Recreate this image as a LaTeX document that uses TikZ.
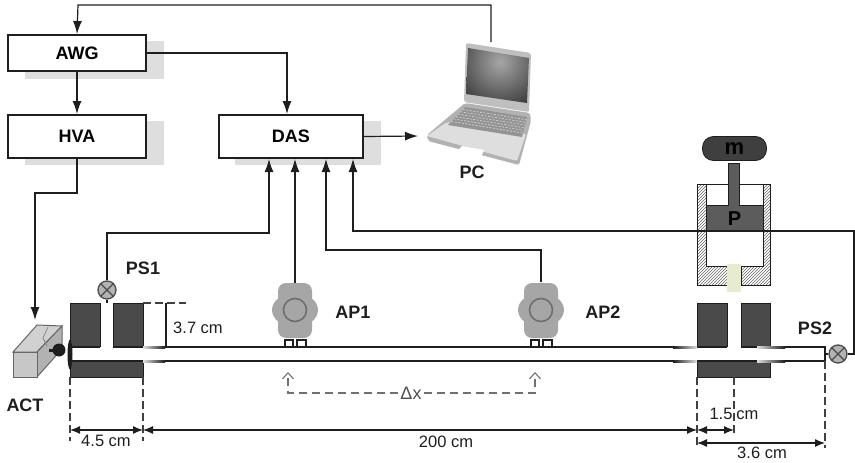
\documentclass[tikz,border=0pt]{standalone}
\usepackage{fontspec}
\setmainfont{Liberation Sans}
\usetikzlibrary{arrows.meta,patterns,calc}
\definecolor{rigInk}{HTML}{1E1E1E}
\definecolor{rigBlock}{HTML}{4A4A4A}
\definecolor{rigPiston}{HTML}{5C5C5C}
\definecolor{rigMass}{HTML}{3F3F3F}
\definecolor{rigShadow}{HTML}{DEDEDE}
\definecolor{rigSensor}{HTML}{A6A6A6}
\definecolor{rigFluid}{HTML}{E6ECCD}
\definecolor{rigDash}{HTML}{707070}
\tikzset{
    >=Latex,
    box/.style={draw=rigInk, line width=2pt, fill=white, minimum width=138pt, minimum height=36pt, font=\fontsize{18}{20}\selectfont\bfseries},
    boxshade/.style={fill=rigShadow, draw=none},
    tag/.style={font=\fontsize{18}{20}\selectfont\bfseries, text=rigInk, inner sep=0pt},
    dimtext/.style={font=\fontsize{16.5}{19}\selectfont, text=rigInk, inner sep=0pt},
    signal/.style={->, line width=1.2pt, draw=rigInk, >={Latex[length=13pt,width=9pt]}},
    wire/.style={line width=1.2pt, draw=rigInk},
    dimarrow/.style={<->, line width=1.2pt, draw=rigInk, >={Latex[length=10pt,width=8pt]}},
    dimline/.style={line width=1.2pt, draw=rigInk!85, dash pattern=on 8pt off 4pt},
    solidblock/.style={fill=rigBlock, draw=rigInk, line width=1pt},
    pipeedge/.style={line width=1.5pt, draw=rigInk},
    gauge/.style={circle, draw=rigBlock, line width=1.3pt, fill=rigSensor!85, minimum size=18pt, inner sep=0pt},
    ring/.style={circle, draw=rigBlock!80, line width=1.6pt, fill=rigSensor, minimum size=23pt, inner sep=0pt},
    spacing/.style={-{Straight Barb[length=6pt,width=11pt]}, line width=1.1pt, draw=rigDash, dash pattern=on 8pt off 5pt},
    pics/mic/.style={code={
        \fill[rigSensor, rounded corners=8pt] (-17,-27) rectangle (17,28);
        \fill[rigSensor] (0,0) ellipse (23 and 17);
        \draw[rigInk, line width=1.4pt, fill=white] (-10,30) rectangle (-2,36.5);
        \draw[rigInk, line width=1.4pt, fill=white] (2,30) rectangle (11,36.5);
    }}
}

\begin{document}
\begin{tikzpicture}[x=1pt,y=-1pt]
\useasboundingbox (0,0) rectangle (855,463);

% control boxes
\fill[boxshade] (25,41) rectangle (164,79);
\fill[boxshade] (25,121) rectangle (164,165);
\fill[boxshade] (235,121) rectangle (381,165);
\node[box] (awg) at (77,53) {AWG};
\node[box, minimum height=43pt] (hva) at (77,136.5) {HVA};
\node[box, minimum width=144pt, minimum height=43pt] (das) at (291,136.5) {DAS};

% laptop
\fill[black!30, rounded corners=2pt] (465,103) -- (530,113) -- (531,121) -- (519,165) -- (428,141) -- (427,135) -- cycle;
\fill[black!13, rounded corners=2pt] (427,136) -- (447,122) -- (526,134) -- (517,161) -- cycle;
\fill[black!42] (465,107) -- (527,117) -- (522,137) -- (448,125) -- cycle;
\foreach \r in {111,115,119,123,127,131}
    \draw[black!20, line width=0.8pt, dash pattern=on 2pt off 1.5pt] ($(465,107)!{(\r-107)/30}!(448,125)$) -- ($(527,117)!{(\r-107)/30}!(522,137)$);
\fill[white] (462,146) -- (484,150) -- (481,157) -- (457,151) -- cycle;
\fill[black!25, rounded corners=2pt] (466,43) -- (531,53) -- (529,112) -- (464,102) -- cycle;
\begin{scope}
\clip (468,48) -- (529,58) -- (527,103) -- (466,94) -- cycle;
\shade[inner color=black!35, outer color=black!78] (500,62) circle (50);
\end{scope}

% pipe
\fill[solidblock] (70,347) rectangle (143,377);
\draw[solidblock] (70,303) rectangle (100,347);
\draw[solidblock] (113,303) rectangle (143,347);
\draw[solidblock] (697,303) rectangle (770,377);
\fill[white] (70,347) rectangle (825,361);
\draw[pipeedge] (70,347) -- (100,347) (113,347) -- (727,347) (741,347) -- (825,347) -- (825,361) -- (70,361);
\foreach \a/\b/\lc/\rc in {143/165/black!12/rigInk,673/697/rigInk/black!12,757/785/black!12/rigInk} {
    \shade[left color=\lc, right color=\rc] (\a,346) rectangle (\b,348);
    \shade[left color=\lc, right color=\rc] (\a,360) rectangle (\b,362);
}
\fill[rigInk] (70,354.5) ellipse (2.5 and 15);

% actuator
\draw[black!60, fill=black!18, line width=1pt] (13,352) -- (37,325) -- (62,326) -- (37,352) -- cycle;
\draw[black!60, fill=black!30, line width=1pt] (37,352) -- (62,326) -- (62,349) -- (37,377) -- cycle;
\draw[black!60, fill=black!22, line width=1pt] (13,352) rectangle (37,377);
\draw[black!50, line width=0.7pt] (48,327) -- (43,338) -- (47,346);
\draw[rigInk, line width=3pt] (49,350) -- (60,350);
\fill[rigInk] (59,350) circle (6.5);

% piston
\fill[rigFluid] (727,264) rectangle (741,292);
\draw[pattern=north east lines, pattern color=black!60, draw=rigInk, line width=1pt] (697,184) -- (706,184) -- (706,266) -- (727,266) -- (727,285) -- (741,285) -- (741,266) -- (763,266) -- (763,184) -- (770,184) -- (770,285) -- (697,285) -- cycle;
\draw[rigInk, line width=0.8pt] (706,184) -- (763,184);
\fill[rigFluid] (727,264) rectangle (741,292);
\fill[white] (727,292) rectangle (741,347);
\draw[rigInk, line width=1pt] (727,303) -- (727,347) (741,303) -- (741,347);
\draw[fill=rigPiston, draw=rigInk, line width=0.8pt] (706,205) rectangle (763,231);
\draw[fill=rigPiston, draw=rigInk, line width=0.8pt] (728,205) -- (728,163) -- (739,163) -- (739,205);
\fill[rigPiston] (728.5,203) rectangle (738.5,206);
\node[fill=rigMass, draw=rigInk, line width=0.8pt, rounded corners=11pt, minimum width=64pt, minimum height=24pt, inner sep=0pt, text=black, font=\fontsize{22}{22}\selectfont\bfseries] (mass) at (734.5,148.5) {m};
\node[tag, font=\fontsize{20}{22}\selectfont\bfseries, text=black] (piston) at (734.5,219) {P};

% sensors
\pic at (295,310) {mic};
\pic at (541,310) {mic};
\node[ring] (ap1) at (295,310) {};
\node[ring] (ap2) at (541,310) {};
\node[gauge] (ps1) at (107,290) {};
\draw[rigBlock, line width=1.3pt] (ps1.north west) -- (ps1.south east) (ps1.north east) -- (ps1.south west);
\node[gauge] (ps2) at (838,354) {};
\draw[rigBlock, line width=1.3pt] (ps2.north west) -- (ps2.south east) (ps2.north east) -- (ps2.south west);
\draw[wire] (ps1.south) -- (107,303);
\draw[wire] (ps2.west) -- (825,354);

% signal lines
\coordinate (pctop) at (491,42);
\coordinate (pcin) at (418,136);
\coordinate (actin) at (35,320);
\draw[signal] (pctop) |- (78,5) -- (awg.north);
\draw[signal] (awg.east) -| ([xshift=-4pt]das.north);
\draw[signal] (awg.south) -- (hva.north);
\draw[signal] (das.east) -- (pcin);
\draw[signal] (hva.south) |- (35,193) -- (actin);
\draw[signal] (ps1.north) |- (269,233) -- ([xshift=-22pt]das.south);
\draw[signal] (295,283) -- ([xshift=4pt]das.south);
\draw[signal] (541,282) |- (326,250) -- ([xshift=35pt]das.south);
\draw[signal] (ps2.east) -- (854,354) -- (854,231) -- (353,231) -- ([xshift=62pt]das.south);

% dimensions
\draw[dimline] (70,377) -- (70,441);
\draw[dimline] (143,377) -- (143,441);
\draw[dimline] (697,377) -- (697,448);
\draw[dimline] (734,377) -- (734,436);
\draw[dimline] (825,361) -- (825,448);
\draw[dimline] (143,303) -- (186,303);
\draw[wire] (166,303) -- (166,347);
\draw[dimarrow] (70,430) -- (143,430);
\draw[dimarrow] (143,430) -- (697,430);
\draw[dimarrow] (697,430) -- (734,430);
\draw[dimarrow] (697,443) -- (825,443);

% labels
\node[tag] (lps1) at (143,268) {PS1};
\node[tag] (lps2) at (815,328) {PS2};
\node[tag] (lap1) at (353,312) {AP1};
\node[tag] (lap2) at (603,312) {AP2};
\node[tag] (lact) at (25,405) {ACT};
\node[tag] (lpc) at (472,172) {PC};
\node[dimtext] (d37) at (198,328) {3.7 cm};
\node[dimtext] (d45) at (106,441) {4.5 cm};
\node[dimtext] (d200) at (446,442) {200 cm};
\node[dimtext] (d15) at (734,414) {1.5\hspace{4pt}cm};
\node[dimtext] (d36) at (762,453) {3.6 cm};

% spacing of the two probes
\node[dimtext, text=rigDash!70!black, font=\fontsize{18}{20}\selectfont] (dx) at (411,393) {Δx};
\draw[spacing] ([xshift=-2pt]dx.west) -| (288,372);
\draw[spacing] ([xshift=2pt]dx.east) -| (535,372);
\end{tikzpicture}
\end{document}
